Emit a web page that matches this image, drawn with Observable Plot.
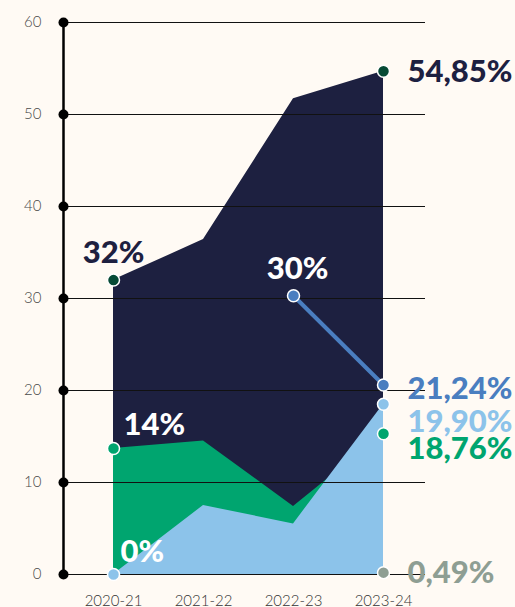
<!DOCTYPE html>
<html>
<head>
<meta charset="utf-8">
<script src="https://cdn.jsdelivr.net/npm/d3@7"></script>
<script src="https://cdn.jsdelivr.net/npm/@observablehq/plot@0.6"></script>
<style>
  html, body { margin: 0; padding: 0; background: #fffaf4; }
  #chart svg { display: block; background: #fffaf4; }
</style>
</head>
<body>
<div id="chart"></div>
<script>
// ---- data ----
const years = ["2020-21", "2021-22", "2022-23", "2023-24"];
const navySeries = [32.0, 36.4, 51.7, 54.7];
const greenSeries = [13.7, 14.5, 7.4, 15.3];
const lightBlueSeries = [0, 7.5, 5.5, 18.5];
const blueYears = ["2022-23", "2023-24"];
const blueSeries = [30.3, 20.6];
const grayYears = ["2023-24"];
const graySeries = [0.2];
const yTicks = [0, 10, 20, 30, 40, 50, 60];

// label texts
const navyLabels = ["32%", "54,85%"];
const greenLabels = ["14%", "18,76%"];
const lightBlueLabels = ["0%", "19,90%"];
const blueLabels = ["30%", "21,24%"];
const grayLabels = ["0,49%"];

const C = {
  navy: "#1d2040",
  navyDot: "#064a35",
  green: "#00a56f",
  light: "#8cc3ea",
  blue: "#4a7ec0",
  gray: "#8e9e93",
  bg: "#fffaf4"
};

const toRows = (xs, ys) => xs.map((x, i) => ({x, y: ys[i]}));
const navy = toRows(years, navySeries);
const green = toRows(years, greenSeries);
const light = toRows(years, lightBlueSeries);
const blue = toRows(blueYears, blueSeries);
const gray = toRows(grayYears, graySeries);

const first = a => [a[0]];
const last = a => [a[a.length - 1]];
const ends = a => [a[0], a[a.length - 1]];

const font = "Lato, 'Open Sans', sans-serif";
const big = {fontSize: 31, fontWeight: 900, fontFamily: font};

const chart = Plot.plot({
  width: 515,
  height: 607,
  marginTop: 22,
  marginBottom: 33,
  marginLeft: 63,
  marginRight: 90,
  style: {background: C.bg, fontFamily: font, overflow: "visible"},
  x: {type: "point", domain: years, padding: 0, insetLeft: 50, insetRight: 42, label: null},
  y: {domain: [0, 60], label: null},
  marks: [
    Plot.areaY(navy, {x: "x", y: "y", fill: C.navy}),
    Plot.areaY(green, {x: "x", y: "y", fill: C.green}),
    Plot.areaY(light, {x: "x", y: "y", fill: C.light}),
    Plot.ruleY(yTicks, {stroke: "#111", strokeWidth: 1}),
    Plot.frame({anchor: "left", stroke: "#000", strokeWidth: 2.5}),
    Plot.dot(yTicks, {y: d => d, frameAnchor: "left", r: 5, fill: "#000"}),
    Plot.axisY(yTicks, {tickSize: 0, tickPadding: 22, fontSize: 15, fill: "#4a4a4a", fontWeight: 300, label: null}),
    Plot.axisX({tickSize: 0, tickPadding: 21, fontSize: 15, fill: "#333", fontWeight: 300, label: null}),
    Plot.line(blue, {x: "x", y: "y", stroke: C.blue, strokeWidth: 4}),
    Plot.dot(ends(navy), {x: "x", y: "y", r: 6, fill: C.navyDot, stroke: "#fff", strokeWidth: 1.5}),
    Plot.dot(ends(green), {x: "x", y: "y", r: 6, fill: C.green, stroke: "#fff", strokeWidth: 1.5}),
    Plot.dot(ends(light), {x: "x", y: "y", r: 6, fill: C.light, stroke: "#fff", strokeWidth: 1.5}),
    Plot.dot(blue, {x: "x", y: "y", r: 6, fill: C.blue, stroke: "#fff", strokeWidth: 1.5}),
    Plot.dot(gray, {x: "x", y: "y", r: 6, fill: C.gray, stroke: "#fff", strokeWidth: 1.5}),
    // left-side labels
    Plot.text(first(navy), {x: "x", y: "y", text: () => navyLabels[0], fill: C.navy, dy: -27, ...big}),
    Plot.text(first(green), {x: "x", y: "y", text: () => greenLabels[0], fill: "#fff", dx: 10, dy: -23, textAnchor: "start", ...big}),
    Plot.text(first(light), {x: "x", y: "y", text: () => lightBlueLabels[0], fill: "#fff", dx: 7, dy: -22, textAnchor: "start", ...big}),
    Plot.text(first(blue), {x: "x", y: "y", text: () => blueLabels[0], fill: "#fff", dx: 4, dy: -27, ...big}),
    // right-side labels
    Plot.text(last(navy), {x: "x", y: "y", text: () => navyLabels[1], fill: C.navy, dx: 24, dy: 1, textAnchor: "start", ...big}),
    Plot.text(last(blue), {x: "x", y: "y", text: () => blueLabels[1], fill: C.blue, dx: 24, dy: 4, textAnchor: "start", ...big}),
    Plot.text(last(light), {x: "x", y: "y", text: () => lightBlueLabels[1], fill: C.light, dx: 24, dy: 18, textAnchor: "start", ...big}),
    Plot.text(last(green), {x: "x", y: "y", text: () => greenLabels[1], fill: C.green, dx: 24, dy: 15, textAnchor: "start", ...big}),
    Plot.text(gray, {x: "x", y: "y", text: () => grayLabels[0], fill: C.gray, dx: 24, dy: 0, textAnchor: "start", ...big})
  ]
});
document.getElementById("chart").append(chart);
</script>
</body>
</html>
